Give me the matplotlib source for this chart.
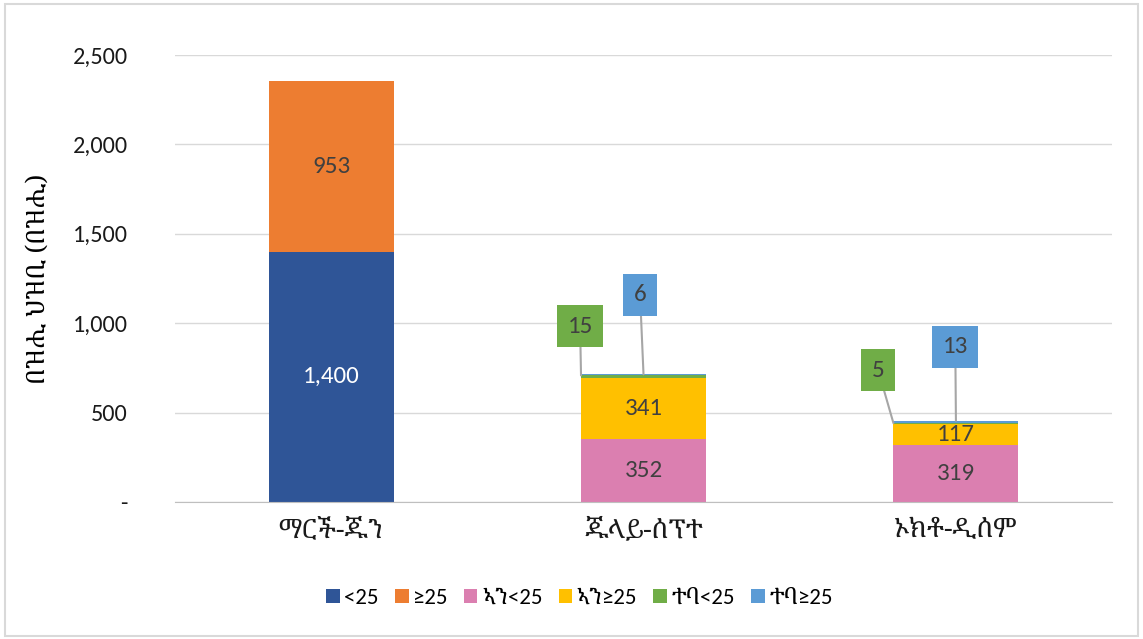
import matplotlib
matplotlib.use("Agg")
import matplotlib.pyplot as plt
import numpy as np
from matplotlib import font_manager
from matplotlib.patches import Rectangle
from matplotlib.ticker import FuncFormatter

# fonts: latin first, ethiopic fallback
names = {f.name for f in font_manager.fontManager.ttflist}
latin = "Carlito" if "Carlito" in names else "Open Sans"
ethi = ["Noto Serif Ethiopic", "Abyssinica SIL", "Noto Sans Ethiopic"]
plt.rcParams["font.family"] = [latin] + ethi + ["DejaVu Sans"]

periods = ["ማርች-ጁን", "ጁላይ-ሰፕተ", "ኦክቶ-ዲሰም"]
series_names = ["<25", "≥25", "ኣን<25", "ኣን≥25", "ተባ<25", "ተባ≥25"]
colors = ["#2F5597", "#ED7D31", "#DB7FB0", "#FFC000", "#70AD47", "#5B9BD5"]

under25 = [1400, 0, 0]
over25 = [953, 0, 0]
an_under25 = [0, 352, 319]
an_over25 = [0, 341, 117]
tb_under25 = [0, 15, 5]
tb_over25 = [0, 6, 13]

values = [under25, over25, an_under25, an_over25, tb_under25, tb_over25]

fig = plt.figure(figsize=(11.43, 6.39), dpi=100)
ax = fig.add_axes([0.153, 0.2144, 0.82, 0.6996])

x = np.arange(len(periods))
width = 0.4
bottom = np.zeros(len(periods))
tops = []
for name, vals, col in zip(series_names, values, colors):
    vals = np.array(vals, dtype=float)
    ax.bar(x, vals, width, bottom=bottom, color=col, label=name, zorder=2)
    tops.append(bottom + vals)
    bottom = bottom + vals

# labels inside the big segments
seg_bottom = np.zeros(len(periods))
for k, vals in enumerate(values):
    for i, v in enumerate(vals):
        if v >= 100:
            txt_col = "white" if k == 0 else "#404040"
            ax.text(x[i], seg_bottom[i] + v / 2, f"{v:,}", ha="center", va="center",
                    fontsize=18, color=txt_col, zorder=3)
    seg_bottom = seg_bottom + np.array(vals)

# callouts for the small segments
callouts = [
    # series index, category, anchor x offset, box position (x, y)
    (4, 1, -width / 2, (0.797, 984)),
    (5, 1, 0.0, (0.989, 1158)),
    (4, 2, -width / 2, (1.751, 738)),
    (5, 2, 0.0, (1.998, 867)),
]
for k, i, dx, pos in callouts:
    v = values[k][i]
    ax.annotate(f"{v}", xy=(x[i] + dx, tops[k][i]), xytext=pos,
                ha="center", va="center", fontsize=18, color="#404040",
                bbox=dict(boxstyle="square,pad=0.42", fc=colors[k], ec="none"),
                arrowprops=dict(arrowstyle="-", color="#A6A6A6", lw=1.5,
                                shrinkA=0, shrinkB=0),
                zorder=4)

ax.set_xlim(-0.5, 2.5)
ax.set_ylim(0, 2500)
ax.set_yticks(np.arange(0, 2501, 500))
ax.yaxis.set_major_formatter(FuncFormatter(lambda v, p: "-" if v == 0 else f"{int(v):,}"))
ax.set_xticks(x)
ax.set_xticklabels(periods, fontsize=19, family=ethi)
ax.tick_params(axis="y", labelsize=17.5, length=0, pad=34, labelcolor="#1a1a1a")
ax.tick_params(axis="x", length=0, pad=10, labelcolor="#1a1a1a")
ax.grid(axis="y", color="#D9D9D9", lw=1, zorder=0)
for s in ["top", "right", "left"]:
    ax.spines[s].set_visible(False)
ax.spines["bottom"].set_color("#BFBFBF")
ax.set_axisbelow(True)

ax.set_ylabel("በዝሒ ህዝቢ (በዝሒ)", fontsize=18, labelpad=16, family=ethi)

leg = fig.legend(loc="center", bbox_to_anchor=(0.507, 0.064), ncol=6, frameon=False,
                 handlelength=0.6, handleheight=0.6,
                 handletextpad=0.2, columnspacing=0.7,
                 prop={"family": [latin] + ethi, "size": 16.5})

fig.patches.append(Rectangle((0.004, 0.004), 0.992, 0.99, transform=fig.transFigure,
                             fill=False, ec="#D9D9D9", lw=1.5))

fig.savefig("out.png", dpi=100)
